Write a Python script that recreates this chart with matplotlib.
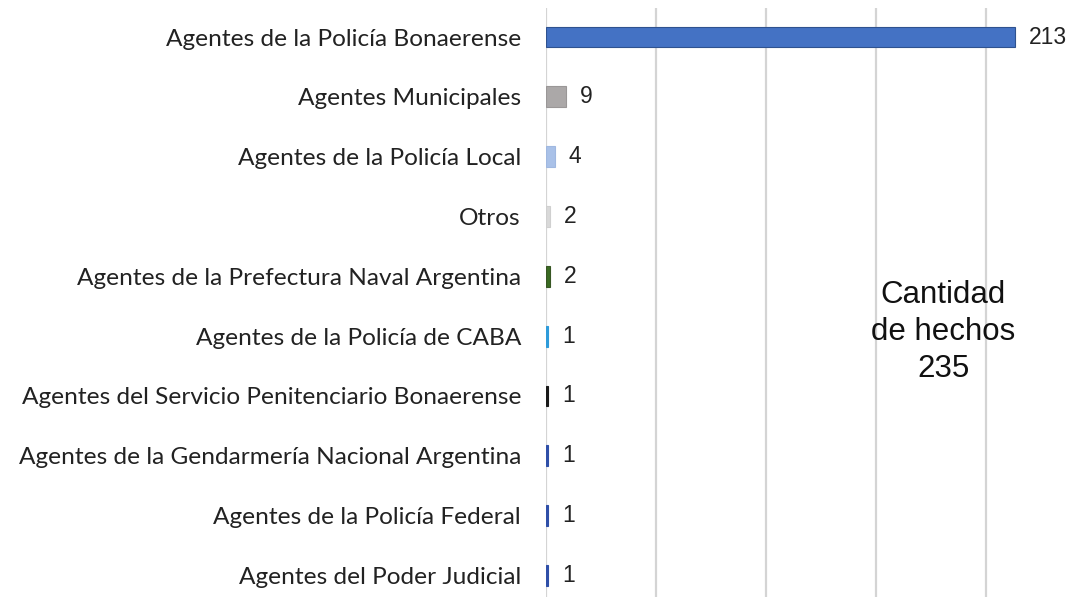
import matplotlib
matplotlib.use("Agg")
import matplotlib.pyplot as plt

categorias = [
    "Agentes de la Policía Bonaerense",
    "Agentes Municipales",
    "Agentes de la Policía Local",
    "Otros",
    "Agentes de la Prefectura Naval Argentina",
    "Agentes de la Policía de CABA",
    "Agentes del Servicio Penitenciario Bonaerense",
    "Agentes de la Gendarmería Nacional Argentina",
    "Agentes de la Policía Federal",
    "Agentes del Poder Judicial",
]
hechos = [213, 9, 4, 2, 2, 1, 1, 1, 1, 1]
colores = ["#4472C4", "#ABA8A8", "#A9C1E8", "#D9D9D9", "#3A6B22",
           "#2E9BDA", "#1A1A1A", "#2F4FA8", "#2F4FA8", "#2F4FA8"]
bordes = ["#2F528F", "#9A9797", "#A0B8E0", "#D0D0D0", "#375623",
          "#2E9BDA", "#1A1A1A", "#2F4FA8", "#2F4FA8", "#2F4FA8"]
total = 235

fig = plt.figure(figsize=(10.88, 5.97), dpi=100)
ax = fig.add_axes([546 / 1088, 0.0, 1 - 546 / 1088, 1 - 8 / 597])

y = list(range(len(categorias)))
ax.barh(y, hechos, height=0.35, color=colores, edgecolor=bordes, linewidth=0.8, zorder=3)

for yi, v in zip(y, hechos):
    ax.text(v + 6.3, yi, str(v), va="center", ha="left", fontsize=16.5,
            family="Liberation Sans", color="#222222")

ax.set_xlim(0, 246.4)
ax.set_ylim(9.36, -0.485)
ax.set_xticks([0, 50, 100, 150, 200])
ax.set_xticklabels([])
ax.set_yticks(y)
ax.set_yticklabels(categorias, fontsize=17.6, family="Lato", color="#222222")
ax.tick_params(axis="both", length=0)
ax.tick_params(axis="y", pad=18)
ax.grid(axis="x", color="#D4D4D4", linewidth=1.6, zorder=0)
for s in ["top", "right", "bottom", "left"]:
    ax.spines[s].set_visible(False)

ax.text(180.5, 4.93, f"Cantidad\nde hechos\n{total}", ha="center", va="center",
        fontsize=22.5, family="Liberation Sans", linespacing=1.32, color="#111111")

fig.savefig("out.png", dpi=100)
